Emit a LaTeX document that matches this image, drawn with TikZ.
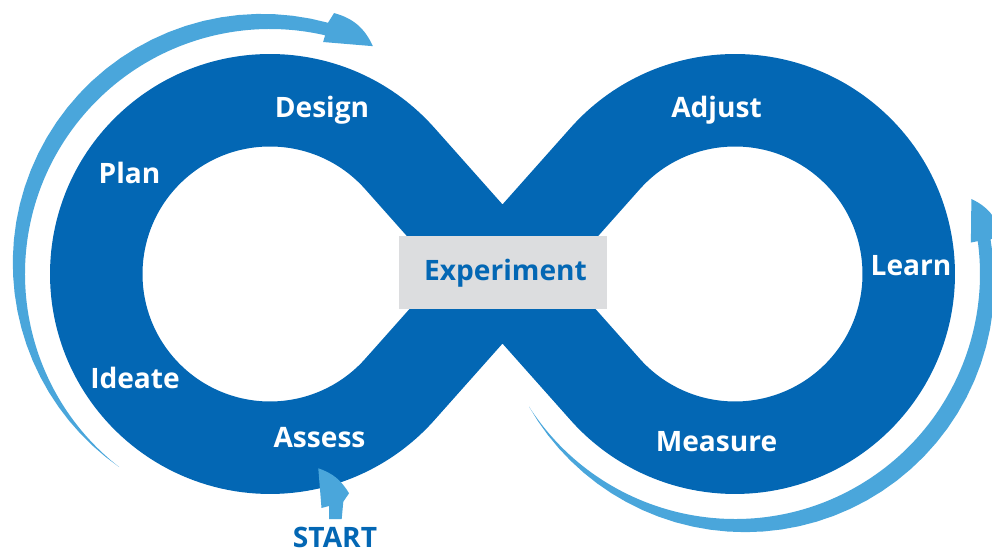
\documentclass[tikz,border=0pt]{standalone}
\usepackage{fontspec}
\setsansfont{Open Sans}
\definecolor{loopblue}{HTML}{0367B4}
\definecolor{arrowblue}{HTML}{4AA6DB}
\definecolor{boxgray}{HTML}{DCDDDF}
\tikzset{
  band/.style={draw=loopblue,line width=1.85cm,line join=miter},
  lbl/.style={anchor=base,inner sep=0pt,text=white,font=\sffamily\bfseries\fontsize{16}{19}\selectfont},
  expbox/.style={fill=boxgray,minimum width=4.16cm,minimum height=1.46cm,inner sep=0pt},
}

\begin{document}
\begin{tikzpicture}[x=0.02cm,y=0.02cm]
\useasboundingbox (0,0) rectangle (992,552);
% the loop
\draw[band] (502.5,278) -- (399.84,393.45) arc[start angle=41.64,end angle=318.36,radius=173.75]
  -- (605.16,393.45) arc[start angle=138.36,end angle=-138.36,radius=173.75] -- cycle;
% outer arrows
\fill[arrowblue,shift={(270,278)}] (232:245) arc[start angle=232,end angle=77,radius=245]
  -- (77.1:238) -- (65.7:250) to[bend right=25] (76.2:268.7)
  -- plot[domain=77:232,samples=40] (\x:{248.8-8.2*cos(\x)+11.2*sin(\x)}) -- cycle;
\fill[arrowblue,shift={(735,278)}] (212.8:245) arc[start angle=212.8,end angle=367.7,radius=245]
  -- (367.6:238) -- (17.6:248) to[bend left=25] (368.6:268.7)
  -- plot[domain=367.7:212.8,samples=40] (\x:{248.8-8.2*cos(444.8-\x)+11.2*sin(444.8-\x)}) -- cycle;
% start arrow
\fill[arrowblue] (329,33) -- (329,46) -- (321.5,44) -- (318.3,83.7) to[bend left=20] (349,58.7)
  -- (343.3,50.3) -- (341.7,33) -- cycle;

\node[expbox] (exp) at (503,279.5) {};
\node[lbl,text=loopblue] (explbl) at (505.5,272) {Experiment};
\node[lbl] (design) at (322,434) {Design};
\node[lbl] (plan) at (129.5,368) {Plan};
\node[lbl] (ideate) at (135,164) {Ideate};
\node[lbl] (assess) at (319.5,105) {Assess};
\node[lbl] (adjust) at (716.5,434) {Adjust};
\node[lbl] (learn) at (911,276) {Learn};
\node[lbl] (measure) at (716.5,101) {Measure};
\node[lbl,text=loopblue] (start) at (335,5) {START};
\end{tikzpicture}
\end{document}
